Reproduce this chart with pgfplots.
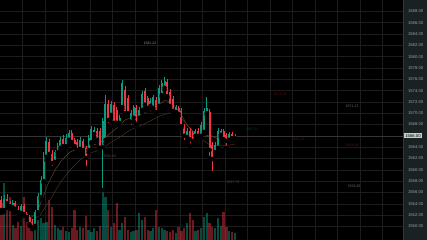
\documentclass[border=0pt]{standalone}
\usepackage{pgfplots}
\pgfplotsset{compat=1.18}
\usepackage{pgfplotstable}
\usepackage{fontspec}
\setmainfont{Liberation Sans}
\definecolor{up}{HTML}{089981}
\definecolor{dn}{HTML}{F23645}
\definecolor{gridc}{HTML}{1C1C1C}
\definecolor{panel}{HTML}{1A2122}
\definecolor{lbl}{HTML}{9AA0A1}
\definecolor{maf}{HTML}{6A4522}
\definecolor{mas}{HTML}{4A3626}
\definecolor{pline}{HTML}{363636}
\definecolor{plabel}{HTML}{C9CCCC}

\pgfplotstableread{
i o h l c v
1 1552.9 1555.6 1552.5 1554.8 5700
4 1553.4 1554.7 1553.1 1554.1 1500
7 1552.4 1554.0 1552.0 1553.6 1400
12 1550.1 1552.9 1549.7 1552.5 2700
13 1552.5 1555.9 1552.2 1555.4 2000
14 1555.2 1558.9 1554.8 1558.2 2200
15 1558.0 1563.1 1557.7 1562.4 1700
16 1562.3 1565.8 1561.7 1565.1 1800
19 1561.4 1563.5 1560.9 1563.1 1500
20 1563.1 1564.7 1562.6 1564.2 1200
21 1563.9 1565.8 1563.5 1565.3 1000
23 1564.2 1566.3 1563.9 1565.6 900
24 1565.3 1567.0 1564.9 1566.5 800
28 1563.7 1565.8 1563.3 1565.3 1300
31 1563.5 1566.2 1563.1 1565.6 1000
32 1564.9 1567.7 1564.6 1567.2 800
33 1566.3 1567.6 1565.8 1567.0 1200
36 1564.0 1569.2 1556.4 1568.6 5200
37 1565.3 1573.2 1564.7 1571.6 4300
39 1569.7 1572.2 1569.2 1571.6 1300
42 1568.3 1569.7 1567.7 1569.2 1000
43 1571.1 1575.9 1570.7 1575.3 1700
46 1568.5 1570.6 1567.6 1570.0 800
47 1569.2 1571.5 1568.6 1571.1 900
49 1569.2 1571.1 1568.8 1570.6 2700
50 1570.6 1573.9 1570.2 1573.4 2000
53 1571.3 1572.7 1570.9 1572.2 900
54 1570.9 1573.2 1570.6 1572.9 1200
56 1571.3 1575.0 1570.9 1574.5 1300
57 1573.2 1575.9 1572.9 1575.3 1200
58 1574.5 1576.4 1574.1 1575.7 1000
62 1570.2 1571.5 1569.9 1571.1 700
66 1565.8 1567.4 1565.4 1566.9 1700
69 1566.0 1567.2 1565.4 1566.9 900
71 1566.0 1568.4 1565.6 1567.9 1200
72 1566.7 1570.9 1566.3 1570.4 2300
73 1570.0 1572.9 1569.7 1570.9 2700
76 1563.1 1564.9 1562.8 1564.4 1200
77 1563.9 1567.4 1563.5 1566.9 2200
78 1566.2 1567.2 1565.8 1566.9 1400
81 1565.3 1566.7 1564.9 1566.3 900
83 1565.6 1566.3 1565.4 1566.0 700
}\bull

\pgfplotstableread{
i o h l c v
0 1554.7 1555.4 1552.4 1552.9 3700
2 1554.8 1555.7 1553.6 1554.1 3000
3 1554.1 1554.5 1553.1 1553.6 4300
5 1554.1 1554.5 1552.7 1553.1 1200
6 1553.1 1553.6 1552.2 1552.5 1800
8 1553.6 1554.0 1551.8 1552.2 4300
9 1552.2 1552.5 1551.1 1551.7 2000
10 1551.7 1552.0 1550.1 1550.4 2300
11 1550.8 1551.3 1549.5 1549.9 1600
17 1564.9 1565.4 1562.3 1562.8 4000
18 1562.8 1563.5 1560.3 1561.2 3300
22 1565.4 1566.2 1563.9 1564.2 1300
25 1566.5 1567.0 1564.4 1564.9 1200
26 1565.3 1565.6 1563.9 1564.2 3000
27 1564.9 1565.4 1563.1 1563.5 1000
29 1565.1 1565.4 1563.0 1563.5 1200
30 1563.9 1564.2 1560.3 1562.1 2400
34 1566.9 1567.4 1564.9 1565.3 900
35 1566.9 1567.4 1563.5 1563.9 1400
38 1571.6 1572.3 1567.9 1568.8 3000
40 1571.5 1572.0 1567.7 1568.3 1700
41 1570.6 1571.1 1567.9 1568.3 3700
44 1574.1 1574.8 1569.5 1570.0 2300
45 1572.7 1573.2 1569.5 1570.0 1000
48 1570.9 1571.5 1567.6 1568.1 1000
51 1573.9 1574.5 1570.9 1571.5 2300
52 1572.7 1573.0 1570.4 1570.9 1000
55 1572.3 1572.9 1569.9 1570.2 3000
59 1575.5 1576.0 1572.7 1573.0 900
60 1573.7 1574.3 1570.9 1571.3 800
61 1572.5 1573.0 1570.0 1570.4 1000
63 1570.9 1571.3 1569.5 1569.9 1300
64 1570.4 1570.9 1567.4 1567.7 900
65 1567.6 1568.1 1564.9 1566.0 1200
67 1566.9 1567.4 1564.2 1565.4 2700
68 1566.5 1566.9 1564.6 1565.1 2000
70 1566.9 1567.4 1565.3 1566.0 1000
74 1570.2 1570.7 1562.1 1563.5 1700
75 1564.4 1564.9 1559.4 1561.9 1300
79 1566.9 1567.2 1565.1 1565.4 2800
80 1566.2 1566.5 1563.9 1565.1 1300
82 1566.3 1566.7 1565.3 1565.6 800
}\bear

\pgfplotsset{
  base/.style={at={(0,0)}, anchor=south west, scale only axis,
    width=403pt, height=240pt, xmin=-0.5, xmax=142.79},
}

\begin{document}
\begin{tikzpicture}
\fill[black] (0,0) rectangle (427pt,240pt);
\fill[panel] (403pt,0) rectangle (427pt,240pt);
\draw[pline, line width=0.5pt] (403pt,0) -- (403pt,240pt);

% price grid and right-hand scale
\begin{axis}[base, ymin=1547.6, ymax=1590,
  axis line style={draw=none}, major tick length=0pt,
  xtick={7.5,15.5,...,135.5}, xticklabels={},
  ytick={1550,1552,1554,1556,1558,1560,1562,1564,1568,1570,1572,1574,1576,1578,1580,1582,1584,1586,1588},
  yticklabel pos=right,
  yticklabel style={font=\fontsize{4.2}{5}\selectfont, text=lbl, anchor=west, xshift=1.5pt,
    /pgf/number format/fixed, /pgf/number format/fixed zerofill,
    /pgf/number format/precision=2, /pgf/number format/1000 sep={},
    /pgf/number format/assume math mode=true},
  grid=major, major grid style={gridc, line width=0.5pt},
  clip=false]
\addplot[pline, line width=0.5pt, mark=none] coordinates {(-0.5,1566) (142.79,1566)};
\node[fill=plabel, text=black, font=\fontsize{4.2}{5}\selectfont, inner xsep=1.2pt, inner ysep=0.9pt, anchor=west, xshift=1pt] at (axis cs:142.79,1566) {1566.00};
\end{axis}

% volume
\begin{axis}[base, hide axis, ymin=0, ymax=24000]
\addplot[ycomb, draw=up, draw opacity=0.5, line width=2.2pt, mark=none] table[x=i, y=v] {\bull};
\addplot[ycomb, draw=dn, draw opacity=0.45, line width=2.2pt, mark=none] table[x=i, y=v] {\bear};
\end{axis}

% candles and averages
\begin{axis}[base, hide axis, ymin=1547.6, ymax=1590]
\addplot[mas, line width=0.45pt, mark=none] coordinates {
(10.17,1550.78) (13.72,1552.02) (17.28,1554.67) (20.83,1557.67) (24.39,1559.97)
(27.94,1561.73) (31.50,1562.97) (35.06,1563.50) (38.61,1564.74) (42.17,1565.80)
(45.72,1567.03) (49.28,1567.74) (52.83,1568.62) (56.39,1569.51) (59.94,1570.04)
(63.50,1569.33) (67.06,1567.39) (70.61,1565.62) (74.17,1564.38) (77.72,1564.21)
(81.28,1564.38) (83.06,1564.56)};
\addplot[maf, line width=0.45pt, mark=none] coordinates {
(6.61,1552.55) (10.17,1551.49) (12.30,1552.19) (14.43,1554.67) (16.57,1557.49)
(19.06,1559.97) (21.54,1561.73) (24.39,1563.15) (27.94,1563.85) (31.50,1564.21)
(35.06,1564.74) (37.90,1566.15) (41.10,1567.39) (43.94,1568.80) (46.79,1569.33)
(49.99,1569.86) (52.83,1570.39) (55.68,1571.27) (58.17,1572.33) (60.66,1571.80)
(63.50,1570.21) (65.99,1567.92) (68.83,1566.33) (71.68,1565.97) (74.17,1566.15)
(77.01,1565.44) (79.86,1565.44) (83.06,1565.62)};
% wicks
\addplot[only marks, mark=none, error bars/.cd, y dir=plus, y explicit, error mark=none,
  error bar style={line width=0.5pt, draw=up}]
  table[x=i, y=l, y error plus expr=\thisrow{h}-\thisrow{l}] {\bull};
\addplot[only marks, mark=none, error bars/.cd, y dir=plus, y explicit, error mark=none,
  error bar style={line width=0.5pt, draw=dn}]
  table[x=i, y=l, y error plus expr=\thisrow{h}-\thisrow{l}] {\bear};
% bodies
\addplot[only marks, mark=none, error bars/.cd, y dir=plus, y explicit, error mark=none,
  error bar style={line width=2pt, draw=up}]
  table[x=i, y=o, y error plus expr=\thisrow{c}-\thisrow{o}] {\bull};
\addplot[only marks, mark=none, error bars/.cd, y dir=plus, y explicit, error mark=none,
  error bar style={line width=2pt, draw=dn}]
  table[x=i, y=c, y error plus expr=\thisrow{o}-\thisrow{c}] {\bear};
% faint drawing labels
\node[font=\fontsize{3.5}{4}\selectfont, text=black!45!white] at (axis cs:52.8,1582.4) {1582.22};
\node[font=\fontsize{3.5}{4}\selectfont, text=black!70!white] at (axis cs:38.6,1562.4) {1562.45};
\node[font=\fontsize{3.5}{4}\selectfont, text=black!72!white] at (axis cs:82.3,1557.8) {1557.75};
\node[font=\fontsize{3.5}{4}\selectfont, text=black!55!white] at (axis cs:124.7,1571.3) {1571.27};
\node[font=\fontsize{3.5}{4}\selectfont, text=black!60!white] at (axis cs:125.4,1557.0) {1556.95};
\node[font=\fontsize{3.5}{4}\selectfont, text=dn!35!black] at (axis cs:99.1,1573.4) {1573.39};
\node[font=\fontsize{3.5}{4}\selectfont, text=dn!35!black] at (axis cs:105.5,1565.4) {1565.44};
\node[font=\fontsize{3.5}{4}\selectfont, text=dn!35!black] at (axis cs:124.7,1564.4) {1564.38};
\node[font=\fontsize{3.5}{4}\selectfont, text=up!40!black] at (axis cs:89.1,1567.2) {1567.21};
\end{axis}
\pgfresetboundingbox
\useasboundingbox (0,0) rectangle (427pt,240pt);
\end{tikzpicture}
\end{document}
